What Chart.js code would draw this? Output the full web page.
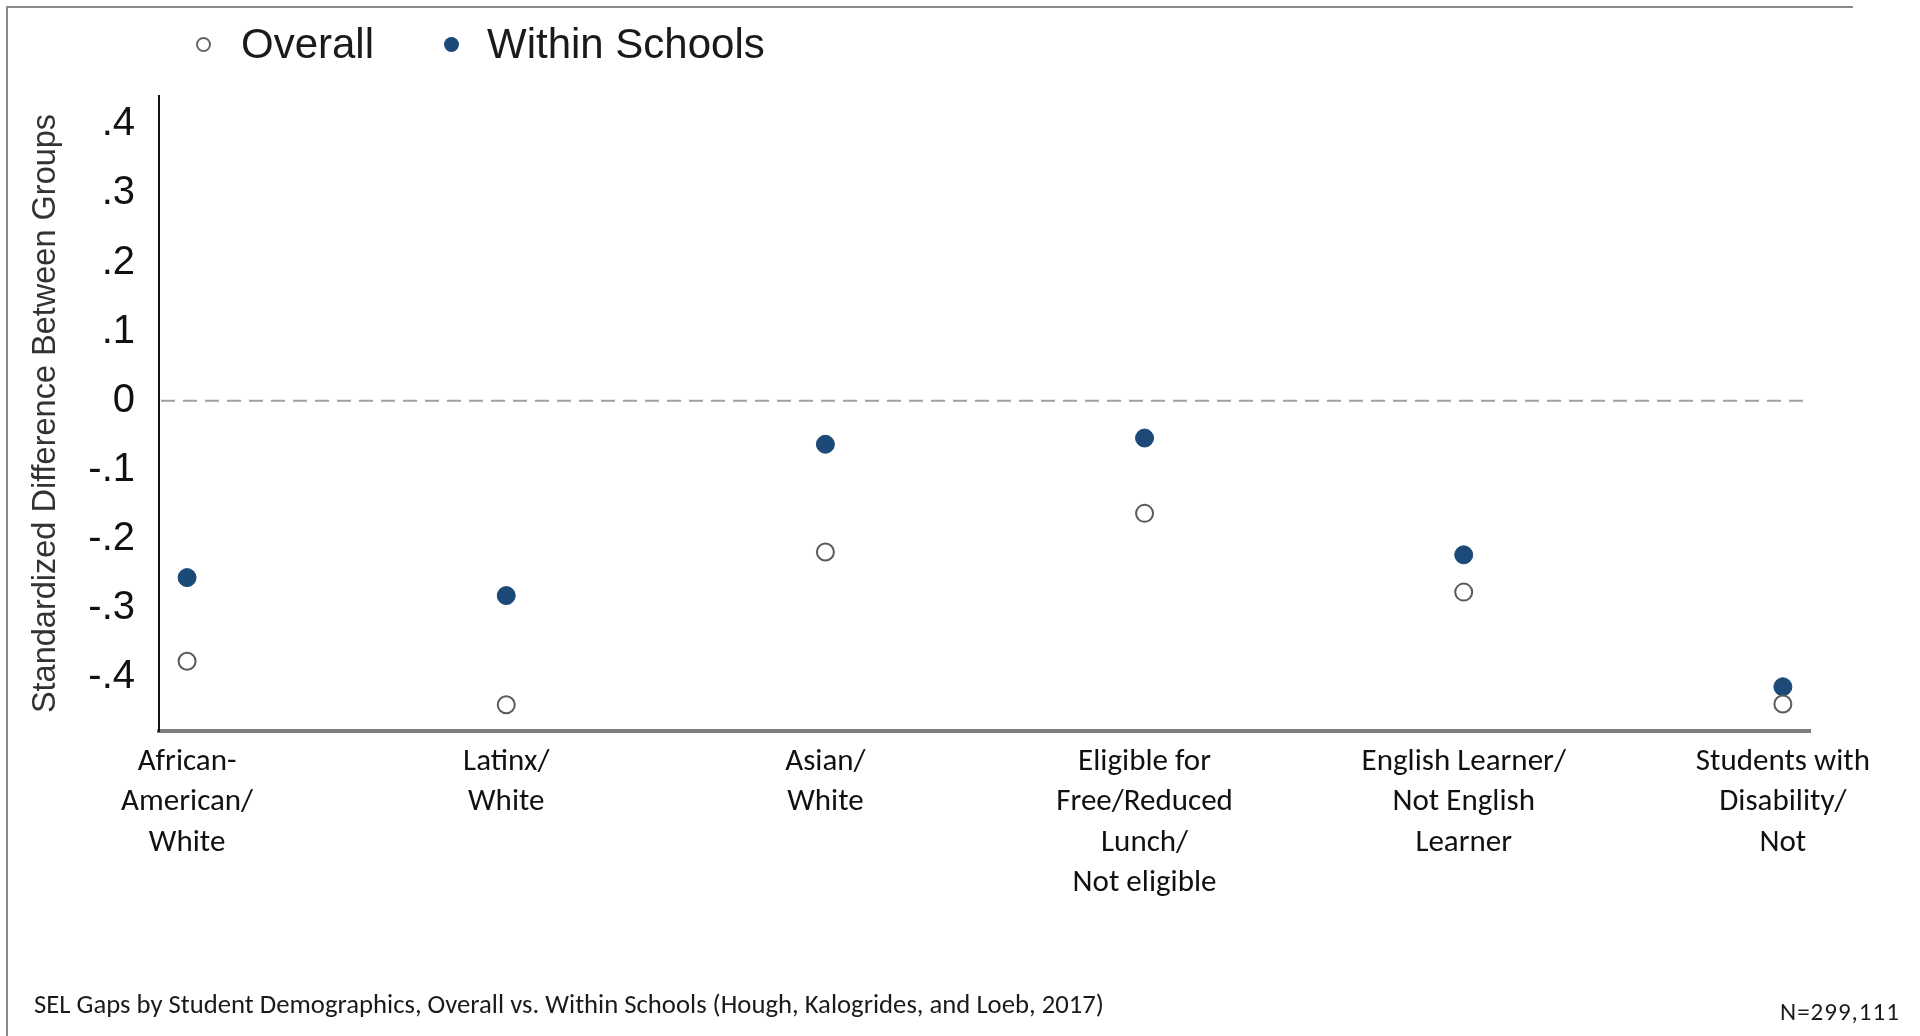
<!DOCTYPE html>
<html>
<head>
<meta charset="utf-8">
<title>SEL Gaps by Student Demographics</title>
<script src="https://cdn.jsdelivr.net/npm/chart.js@4.4.1/dist/chart.umd.min.js"></script>
<style>
    html, body { margin: 0; padding: 0; background: #fff; }
    body { width: 1920px; height: 1036px; position: relative; overflow: hidden; }
    #frame {
        position: absolute; left: 6px; top: 6px; width: 1845px; height: 1040px;
        border-left: 2px solid #8a8a8a; border-top: 2px solid #8a8a8a;
    }
    #wrap { position: absolute; left: 0; top: 0; width: 1920px; height: 1036px; }
    .legend {
        position: absolute; top: 19px; left: 0; height: 50px;
        font-family: "Liberation Sans", Arial, sans-serif; font-size: 42px; color: #1a1a1a;
    }
    .legend span { position: absolute; top: 0; white-space: nowrap; line-height: 50px; }
    .dot { position: absolute; width: 15px; height: 15px; border-radius: 50%; box-sizing: border-box; top: 18px; }
    .caption {
        position: absolute; font-family: Carlito, "Liberation Sans Narrow", "Open Sans", sans-serif;
        color: #1a1a1a; white-space: nowrap;
    }
</style>
</head>
<body>
<div id="frame"></div>
<div id="wrap"><canvas id="gapChart"></canvas></div>

<div class="legend">
    <div class="dot" style="left:196px; border:2px solid #666; background:#fff;"></div>
    <span style="left:241px;">Overall</span>
    <div class="dot" style="left:444px; background:#1b4a78;"></div>
    <span style="left:487px;">Within Schools</span>
</div>

<div class="caption" style="left:34px; top:988px; font-size:26.7px;">SEL Gaps by Student Demographics, Overall vs. Within Schools (Hough, Kalogrides, and Loeb, 2017)</div>
<div class="caption" style="left:1780px; top:996px; font-size:25px; letter-spacing:1px;">N=299,111</div>

<script>
// 分组标签（多行）
const categories = [
    ['African-', 'American/', 'White'],
    ['Latinx/', 'White'],
    ['Asian/', 'White'],
    ['Eligible for', 'Free/Reduced', 'Lunch/', 'Not eligible'],
    ['English Learner/', 'Not English', 'Learner'],
    ['Students with', 'Disability/', 'Not']
];

// 数值
const overallValues = [-0.377, -0.44, -0.219, -0.163, -0.277, -0.439];
const withinValues = [-0.256, -0.282, -0.063, -0.054, -0.223, -0.414];

const yTicks = [-0.4, -0.3, -0.2, -0.1, 0, 0.1, 0.2, 0.3, 0.4];

function toPoints(values) {
    return values.map((v, i) => ({ x: i, y: v }));
}

// 零线（虚线）
const zeroLine = {
    id: 'zeroLine',
    beforeDatasetsDraw(chart) {
        const { ctx, chartArea, scales } = chart;
        const py = scales.y.getPixelForValue(0);
        ctx.save();
        ctx.strokeStyle = '#a0a0a0';
        ctx.lineWidth = 2;
        ctx.setLineDash([14, 8]);
        ctx.beginPath();
        ctx.moveTo(chartArea.left + 2, py);
        ctx.lineTo(chartArea.right, py);
        ctx.stroke();
        ctx.restore();
    }
};

const ctx = document.getElementById('gapChart').getContext('2d');

new Chart(ctx, {
    type: 'scatter',
    data: {
        datasets: [
            {
                label: 'Overall',
                data: toPoints(overallValues),
                backgroundColor: '#ffffff',
                borderColor: '#5a5a5a',
                borderWidth: 2,
                pointRadius: 8.5
            },
            {
                label: 'Within Schools',
                data: toPoints(withinValues),
                backgroundColor: '#1b4a78',
                borderColor: '#1b4a78',
                borderWidth: 1,
                pointRadius: 9
            }
        ]
    },
    options: {
        responsive: true,
        maintainAspectRatio: false,
        animation: false,
        layout: {
            padding: { top: 96, right: 110, bottom: 0, left: 0 }
        },
        plugins: {
            legend: { display: false },
            tooltip: { enabled: false }
        },
        scales: {
            x: {
                type: 'linear',
                min: -0.088,
                max: 5.085,
                afterBuildTicks: scale => {
                    scale.ticks = categories.map((c, i) => ({ value: i }));
                },
                afterFit: scale => { scale.height = 305; },
                grid: { display: false, drawTicks: false },
                border: { display: true, color: '#7d7d7d', width: 4 },
                ticks: {
                    padding: 11,
                    maxRotation: 0,
                    autoSkip: false,
                    color: '#111',
                    font: { family: 'Carlito, "Liberation Sans Narrow", "Open Sans", sans-serif', size: 31, lineHeight: 1.3 },
                    callback: value => categories[value]
                }
            },
            y: {
                min: -0.478,
                max: 0.441,
                afterBuildTicks: scale => {
                    scale.ticks = yTicks.map(v => ({ value: v }));
                },
                afterFit: scale => { scale.width = 159; },
                grid: { display: false, drawTicks: false },
                border: { display: true, color: '#111', width: 2 },
                ticks: {
                    padding: 24,
                    color: '#111',
                    font: { family: '"Liberation Sans", Arial, sans-serif', size: 40 },
                    callback: value => {
                        const v = Math.round(value * 10);
                        if (v === 0) return '0';
                        return (v < 0 ? '-' : '') + '.' + Math.abs(v);
                    }
                }
                ,
                title: {
                    display: true,
                    text: 'Standardized Difference Between Groups',
                    color: '#333',
                    padding: { top: 27, bottom: 0 },
                    font: { family: '"Liberation Sans", Arial, sans-serif', size: 32.5, lineHeight: 1.2 }
                }
            }
        }
    },
    plugins: [zeroLine]
});
</script>
</body>
</html>
